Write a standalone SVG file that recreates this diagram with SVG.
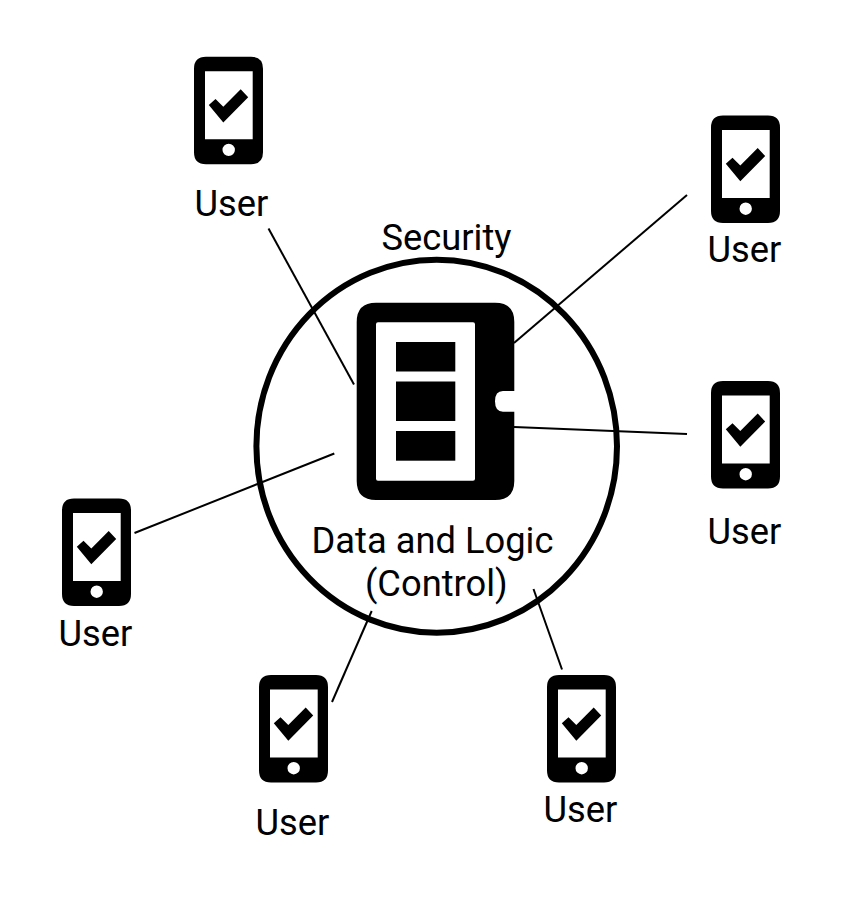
<svg xmlns="http://www.w3.org/2000/svg" xmlns:xlink="http://www.w3.org/1999/xlink" width="852" height="922" viewBox="0 0 852 922">
<style>
text{font-family:Roboto,"Liberation Sans",sans-serif;font-size:36.300px;fill:#000;text-anchor:middle}
.c{stroke:#000;stroke-width:2;fill:none}
</style>
<defs>
<g id="phone">
<path fill-rule="evenodd" d="M12 0H57Q69 0 69 12V95.500Q69 107.500 57 107.500H12Q0 107.500 0 95.500V12Q0 0 12 0ZM11 14.500V82.500H58.700V14.500ZM34.700 87A6.200 6.200 0 1 0 34.700 99.400A6.200 6.200 0 1 0 34.700 87Z"/>
<path d="M14.800 48.300L21.500 42.300L29.300 50L46.700 32.500L54.200 40.600L29.300 65.800Z"/>
</g>
</defs>
<rect width="852" height="922" fill="#fff"/>
<g id="connectors">
<line class="c" x1="268.500" y1="228.500" x2="354" y2="384.500"/>
<line class="c" x1="687" y1="195" x2="514" y2="343"/>
<line class="c" x1="687" y1="434" x2="514" y2="427"/>
<line class="c" x1="334.300" y1="453.500" x2="134.500" y2="533"/>
<line class="c" x1="371.700" y1="611" x2="332" y2="702"/>
<line class="c" x1="533.500" y1="589" x2="562" y2="669.500"/>
</g>
<g id="center">
<ellipse cx="436.700" cy="446.200" rx="180.300" ry="186.500" fill="none" stroke="#000" stroke-width="6"/>
<path fill-rule="evenodd" d="M376 302.700H495Q514.300 302.700 514.300 322V391H503Q495 391 495 401.300Q495 411.700 503 411.700H514.300V481Q514.300 500 495 500H376Q356.700 500 356.700 481V322Q356.700 302.700 376 302.700ZM378 322.300Q376 322.300 376 324.300V478.700Q376 480.700 378 480.700H473Q475 480.700 475 478.700V324.300Q475 322.300 473 322.300Z"/>
<rect x="396" y="342" width="59.300" height="29.500"/>
<rect x="396" y="381.500" width="59.300" height="39.500"/>
<rect x="396" y="431" width="59.300" height="29.700"/>
<text x="446.500" y="250">Security</text>
<text x="432.500" y="553">Data and Logic</text>
<text x="436.300" y="595.500">(Control)</text>
</g>
<g id="user1"><use xlink:href="#phone" href="#phone" x="194" y="56.700"/><text x="231.500" y="216">User</text></g>
<g id="user2"><use xlink:href="#phone" href="#phone" x="711" y="115.500"/><text x="744.500" y="262">User</text></g>
<g id="user3"><use xlink:href="#phone" href="#phone" x="711" y="381"/><text x="744.500" y="544">User</text></g>
<g id="user4"><use xlink:href="#phone" href="#phone" x="62" y="498.500"/><text x="95.500" y="646">User</text></g>
<g id="user5"><use xlink:href="#phone" href="#phone" x="259" y="675"/><text x="292.500" y="834.500">User</text></g>
<g id="user6"><use xlink:href="#phone" href="#phone" x="547" y="675"/><text x="580.500" y="822">User</text></g>
</svg>
